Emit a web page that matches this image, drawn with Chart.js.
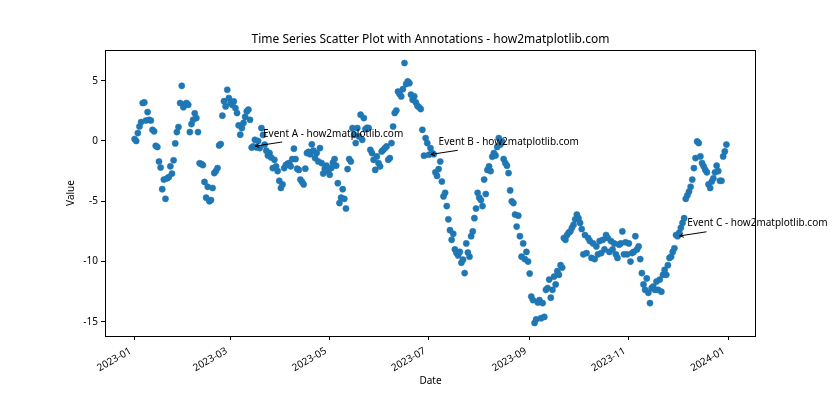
<!DOCTYPE html>
<html><head><meta charset="utf-8">
<script src="https://cdn.jsdelivr.net/npm/chart.js@4/dist/chart.umd.min.js"></script>
<style>html,body{margin:0;padding:0;background:#fff}#wrap{width:840px;height:420px}</style>
</head><body><div id="wrap"><canvas id="c" width="840" height="420"></canvas></div>
<script>
const startDate = '2023-01-01';
const values = [
0.16, 0.0, 0.66, 1.2, 1.57, 3.15, 3.2, 1.7, 2.4, 1.75,
1.7, 0.93, 0.8, -0.4, -0.5, -1.7, -2.2, -4.0, -3.2, -4.8,
-3.1, -3.0, -2.1, -2.7, -1.6, -0.2, 0.74, 1.16, 3.15, 4.58,
2.8, 3.06, 3.15, 3.0, 0.74, 1.4, 1.76, 2.3, 1.9, 0.74,
-1.85, -1.9, -2.0, -3.4, -4.7, -3.8, -5.0, -4.9, -3.9, -2.66,
-2.5, -2.25, -0.37, -0.25, 2.1, 3.3, 2.87, 4.25, 3.56, 3.15,
3.0, 3.28, 2.73, 2.32, 1.3, 0.52, 1.07, 1.5, 2.0, 2.45,
2.6, 1.76, -0.55, -0.45, 0.1, -0.53, 0.0, -0.59, 1.07, 0.5,
-0.3, -0.8, -1.2, -1.0, -1.37, -2.25, -1.56, -2.1, -2.5, -3.3,
-3.9, -3.6, -2.25, -2.0, -1.9, -1.83, -2.1, -1.5, -0.64, -1.5,
-2.3, -2.4, -3.2, -3.4, -3.6, -2.3, -1.0, -0.9, -1.1, -0.28,
-0.8, -1.42, -1.0, -1.7, -0.59, -1.83, -2.7, -2.3, -2.05, -2.5,
-2.8, -2.25, -1.8, -1.5, -2.05, -3.5, -5.15, -4.7, -4.0, -4.8,
-5.6, -2.33, -1.5, -1.7, 1.07, 0.5, -0.17, 1.07, 0.38, 2.18,
0.1, 1.9, 0.99, 1.1, 1.07, -0.73, -1.0, -1.56, -2.4, -1.28,
-1.83, -2.1, -0.87, -0.73, -0.59, -0.45, -1.56, -1.42, -0.17, 1.2,
2.32, 2.53, 4.1, 3.9, 3.7, 4.3, 6.47, 4.72, 4.94, 4.8,
3.84, 3.42, 3.7, 3.2, 2.9, 2.8, 2.65, 0.93, -1.22, 0.24,
-0.17, -1.14, -0.59, -1.0, -1.1, -2.6, -2.9, -2.33, -1.7, -3.36,
-4.6, -4.3, -5.4, -6.5, -7.4, -8.2, -7.7, -9.0, -9.3, -9.5,
-9.2, -10.1, -9.85, -10.96, -8.5, -9.25, -9.6, -7.9, -7.5, -6.4,
-5.6, -4.3, -4.7, -4.9, -5.4, -3.2, -4.4, -2.4, -2.1, -2.5,
-1.3, -1.0, -1.2, -0.5, 0.24, -0.3, -0.04, -1.5, -1.83, -2.05,
-2.66, -4.1, -5.0, -5.15, -6.1, -7.1, -6.2, -7.9, -9.6, -8.5,
-9.8, -9.2, -10.0, -11.0, -12.9, -13.2, -15.1, -14.8, -13.4, -13.2,
-14.7, -13.45, -14.6, -12.35, -12.2, -11.5, -13.0, -12.35, -11.25, -11.9,
-10.8, -11.1, -10.3, -10.5, -8.05, -8.2, -7.8, -7.6, -7.5, -7.2,
-6.95, -6.5, -6.1, -6.4, -6.8, -7.3, -9.4, -7.8, -9.3, -8.05,
-8.3, -9.7, -8.5, -9.8, -8.75, -9.4, -8.3, -9.3, -8.2, -9.0,
-7.8, -8.05, -9.2, -8.3, -9.0, -8.5, -9.4, -9.7, -8.6, -8.5,
-7.5, -9.4, -8.4, -9.4, -8.5, -10.0, -9.3, -9.2, -7.9, -9.0,
-8.75, -9.8, -10.96, -11.9, -12.35, -11.4, -12.6, -13.45, -12.2, -12.07,
-12.35, -11.66, -12.35, -11.5, -12.5, -11.1, -10.7, -11.1, -10.3, -9.7,
-9.6, -9.2, -8.9, -7.8, -7.9, -7.6, -7.2, -6.8, -6.4, -4.8,
-4.5, -4.2, -3.8, -3.2, -2.25, -1.42, -0.04, -0.17, -1.28, -1.83,
-2.1, -2.4, -2.6, -3.6, -3.9, -3.36, -3.1, -2.6, -2.05, -2.5,
-3.3, -3.3, -1.28, -0.87, -0.3
];
const eventDates = ['2023-03-15', '2023-07-01', '2023-12-01'];
const eventLabels = ['Event A - how2matplotlib.com', 'Event B - how2matplotlib.com', 'Event C - how2matplotlib.com'];
const xTickLabels = ['2023-01', '2023-03', '2023-05', '2023-07', '2023-09', '2023-11', '2024-01'];
const yTickValues = [-15, -10, -5, 0, 5];
const titleText = 'Time Series Scatter Plot with Annotations - how2matplotlib.com';
const xTitle = 'Date';
const yTitle = 'Value';

const FONT = '"Noto Sans", "DejaVu Sans", sans-serif';
const BLUE = '#1f77b4';
const DAY0 = Date.UTC(2023, 0, 1);
function dayOf(s) {
  const p = s.split('-').map(Number);
  return (Date.UTC(p[0], p[1] - 1, p[2] || 1) - DAY0) / 864e5;
}
const n = values.length;
const xPad = (n - 1) * 0.05;
const yMin = Math.min(...values), yMax = Math.max(...values);
const yPad = (yMax - yMin) * 0.05;
const points = values.map((v, i) => ({ x: dayOf(startDate) + i, y: v }));

const decor = {
  id: 'decor',
  afterDatasetsDraw(chart) {
    const ctx = chart.ctx, a = chart.chartArea;
    ctx.save();
    ctx.strokeStyle = '#000';
    ctx.lineWidth = 1;
    ctx.strokeRect(Math.round(a.left) + 0.5, Math.round(a.top) + 0.5,
                   Math.round(a.right - a.left) - 1, Math.round(a.bottom - a.top));
    const xs = chart.scales.x, ys = chart.scales.y;
    ctx.font = '10px ' + FONT;
    ctx.fillStyle = '#000';
    ctx.textBaseline = 'alphabetic';
    ctx.textAlign = 'left';
    const off = 10 * 70 / 72;
    eventDates.forEach((d, k) => {
      const i = dayOf(d);
      const px = xs.getPixelForValue(i), py = ys.getPixelForValue(values[i]);
      const tx = px + off, ty = py - off;
      const label = eventLabels[k];
      const m = ctx.measureText(label);
      const mm = ctx.measureText('lp');
      const asc = mm.actualBoundingBoxAscent, desc = mm.actualBoundingBoxDescent;
      ctx.fillText(label, tx, ty);
      const bx0 = tx - 2, bx1 = tx + m.width + 2, by0 = ty - asc - 2, by1 = ty + desc + 2;
      const cx = (bx0 + bx1) / 2, cy = (by0 + by1) / 2;
      let dx = px - cx, dy = py - cy;
      let t = 1;
      if (dx !== 0) { const tt = (dx < 0 ? bx0 - cx : bx1 - cx) / dx; if (tt > 0) t = Math.min(t, tt); }
      if (dy !== 0) { const tt = (dy < 0 ? by0 - cy : by1 - cy) / dy; if (tt > 0) t = Math.min(t, tt); }
      const L = Math.hypot(dx, dy);
      const ux = dx / L, uy = dy / L;
      const sx = cx + dx * t + ux * 2, sy = cy + dy * t + uy * 2;
      const ex = px - ux * 2, ey = py - uy * 2;
      ctx.beginPath();
      ctx.moveTo(sx, sy); ctx.lineTo(ex, ey);
      const hl = 3.9, hw = 1.9;
      const nx = -uy, ny = ux;
      ctx.moveTo(ex - ux * hl + nx * hw, ey - uy * hl + ny * hw);
      ctx.lineTo(ex, ey);
      ctx.lineTo(ex - ux * hl - nx * hw, ey - uy * hl - ny * hw);
      ctx.lineWidth = 1;
      ctx.stroke();
    });
    ctx.textAlign = 'center';
    ctx.textBaseline = 'middle';
    ctx.font = '12px ' + FONT;
    ctx.fillText(titleText, (a.left + a.right) / 2, 40);
    ctx.font = '10px ' + FONT;
    ctx.fillText(xTitle, (a.left + a.right) / 2, 381);
    ctx.translate(71, (a.top + a.bottom) / 2);
    ctx.rotate(-Math.PI / 2);
    ctx.fillText(yTitle, 0, 0);
    ctx.restore();
  }
};

new Chart(document.getElementById('c'), {
  type: 'scatter',
  data: { datasets: [{ data: points, backgroundColor: BLUE, borderColor: BLUE, borderWidth: 0.5,
    pointRadius: 3.1, pointHoverRadius: 3.1 }] },
  options: {
    responsive: false, animation: false, devicePixelRatio: 1,
    layout: { padding: { top: 50, right: 84, left: 0, bottom: 0 } },
    plugins: { legend: { display: false }, tooltip: { enabled: false }, title: { display: false } },
    scales: {
      x: {
        type: 'linear', min: -xPad, max: n - 1 + xPad,
        afterBuildTicks(s) { s.ticks = xTickLabels.map(t => ({ value: dayOf(t) })); },
        afterFit(s) { s.height = 84; },
        grid: { display: true, drawOnChartArea: false, drawTicks: true, tickLength: 4, color: '#000', lineWidth: 1 },
        border: { display: false },
        ticks: { autoSkip: false, minRotation: 30, maxRotation: 30, padding: 5, labelOffset: -4, color: '#000',
          font: { family: FONT, size: 10 }, callback: (v, i) => xTickLabels[i] }
      },
      y: {
        min: yMin - yPad, max: yMax + yPad,
        afterBuildTicks(s) { s.ticks = yTickValues.map(v => ({ value: v })); },
        afterFit(s) { s.width = 105; },
        grid: { display: true, drawOnChartArea: false, drawTicks: true, tickLength: 4, color: '#000', lineWidth: 1 },
        border: { display: false },
        ticks: { padding: 3, color: '#000', font: { family: FONT, size: 10 }, callback: v => String(v) }
      }
    }
  },
  plugins: [decor]
});
</script></body></html>
